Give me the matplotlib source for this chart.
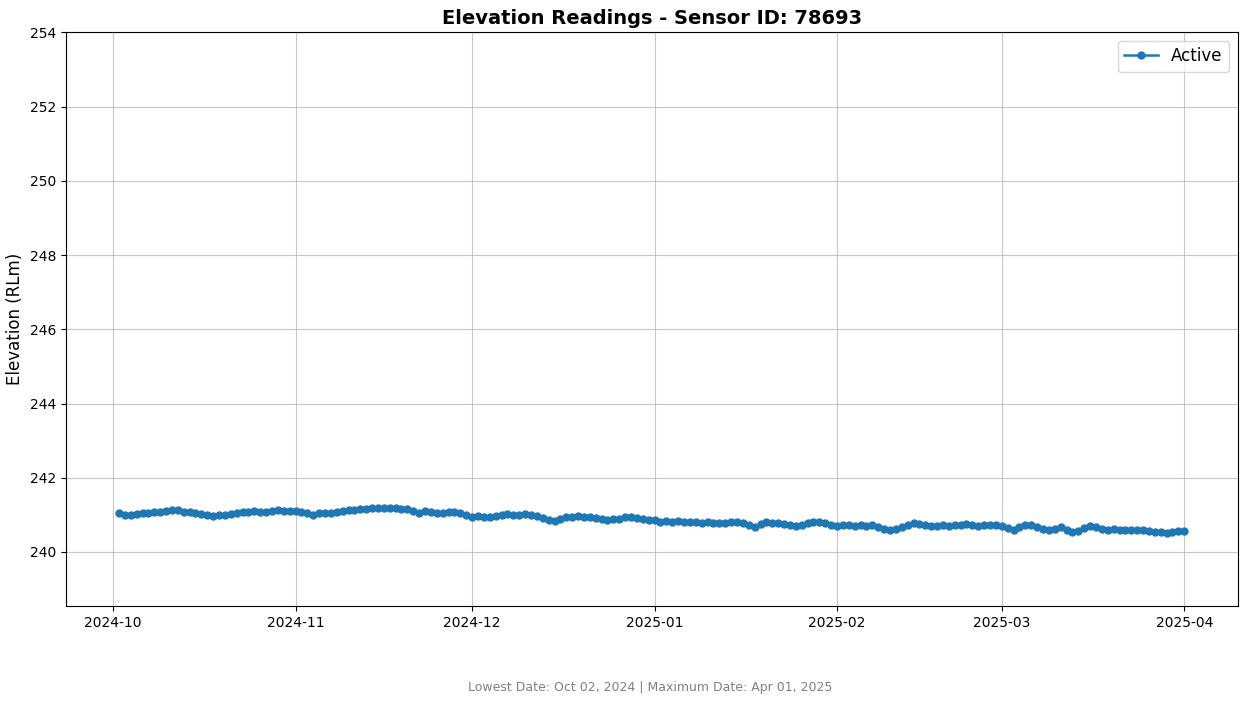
import matplotlib
matplotlib.use("Agg")
import matplotlib.pyplot as plt
import matplotlib.dates as mdates
import pandas as pd

# daily readings, Oct 02 2024 -> Apr 01 2025
start_date = "2024-10-02"
end_date = "2025-04-01"
sensor_id = 78693
status = "Active"

oct_vals = [241.04, 241.01, 241.00, 241.03, 241.06, 241.05, 241.08, 241.07, 241.11, 241.13,
            241.12, 241.09, 241.07, 241.06, 241.03, 240.99, 240.98, 241.01, 241.00, 241.03,
            241.06, 241.09, 241.07, 241.10, 241.08, 241.08, 241.10, 241.12, 241.11, 241.11]
nov_vals = [241.10, 241.07, 241.04, 241.01, 241.04, 241.06, 241.06, 241.09, 241.11, 241.13,
            241.12, 241.15, 241.16, 241.18, 241.19, 241.19, 241.18, 241.19, 241.17, 241.15,
            241.10, 241.06, 241.11, 241.08, 241.04, 241.06, 241.07, 241.09, 241.05, 241.00]
dec_vals = [240.95, 240.96, 240.94, 240.95, 240.97, 241.00, 241.02, 241.01, 241.00, 241.02,
            241.01, 240.97, 240.92, 240.87, 240.84, 240.90, 240.95, 240.93, 240.96, 240.94,
            240.95, 240.92, 240.89, 240.86, 240.88, 240.90, 240.93, 240.95, 240.92, 240.89,
            240.86]
jan_vals = [240.85, 240.82, 240.83, 240.81, 240.84, 240.82, 240.80, 240.81, 240.79, 240.80,
            240.78, 240.77, 240.79, 240.80, 240.82, 240.78, 240.72, 240.66, 240.75, 240.80,
            240.78, 240.79, 240.76, 240.74, 240.70, 240.73, 240.77, 240.80, 240.82, 240.79,
            240.74]
feb_vals = [240.70, 240.72, 240.74, 240.71, 240.73, 240.70, 240.73, 240.68, 240.63, 240.59,
            240.62, 240.68, 240.73, 240.77, 240.75, 240.72, 240.70, 240.69, 240.72, 240.70,
            240.72, 240.74, 240.75, 240.72, 240.71, 240.73, 240.72, 240.73]
mar_vals = [240.70, 240.65, 240.59, 240.66, 240.73, 240.72, 240.66, 240.62, 240.59, 240.63,
            240.66, 240.58, 240.53, 240.57, 240.64, 240.70, 240.67, 240.62, 240.59, 240.61,
            240.60, 240.58, 240.60, 240.59, 240.59, 240.56, 240.55, 240.53, 240.52, 240.55,
            240.56]
apr_vals = [240.57]

elevation = oct_vals + nov_vals + dec_vals + jan_vals + feb_vals + mar_vals + apr_vals
dates = pd.date_range(start_date, end_date, freq="D")

fig = plt.figure(figsize=(12.4, 7.02), dpi=100)
ax = fig.add_axes([0.053, 0.137, 0.945, 0.817])

ax.plot(dates, elevation, marker="o", markersize=5, linewidth=1.8,
        color="#1f77b4", label=status)

ax.set_ylim(238.55, 254)
ax.set_yticks(range(240, 255, 2))
ax.xaxis.set_major_locator(mdates.MonthLocator())
ax.xaxis.set_major_formatter(mdates.DateFormatter("%Y-%m"))
ax.tick_params(labelsize=10)

ax.set_ylabel("Elevation (RLm)", fontsize=12)
ax.set_title(f"Elevation Readings - Sensor ID: {sensor_id}", fontsize=14, fontweight="bold", pad=6)
ax.grid(True, color="#b0b0b0", linewidth=0.8, alpha=0.7)
ax.legend(loc="upper right", fontsize=12)

fig.text(650 / 1240, 14 / 702,
         "Lowest Date: Oct 02, 2024 | Maximum Date: Apr 01, 2025",
         ha="center", va="center", fontsize=9, color="gray")

fig.savefig("out.png", dpi=100)
